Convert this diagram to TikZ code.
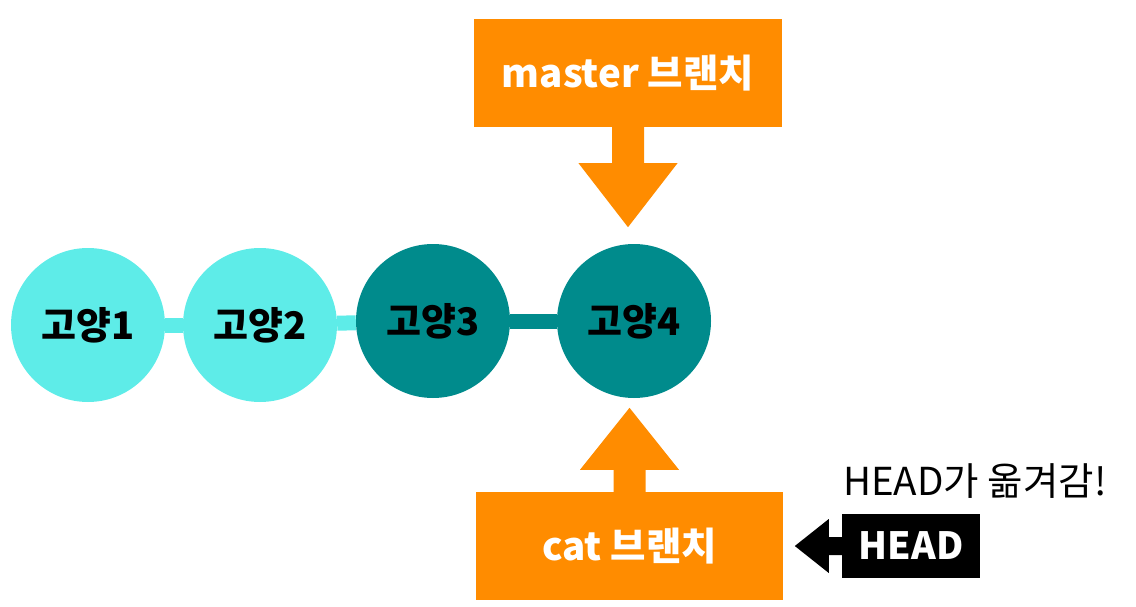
\documentclass[tikz,border=0pt]{standalone}
\usepackage{fontspec}
\setmainfont{Noto Sans CJK KR}
\usetikzlibrary{calc,backgrounds}
\definecolor{gorange}{RGB}{255,140,0}
\definecolor{lightcy}{RGB}{94,236,232}
\definecolor{darkcy}{RGB}{0,139,140}
\tikzset{
  commit/.style={circle, minimum size=154pt, inner sep=0pt, font=\bfseries\fontsize{38}{38}\selectfont},
  oldcommit/.style={commit, fill=lightcy},
  newcommit/.style={commit, fill=darkcy},
  branchbox/.style={rectangle, fill=gorange, text=white, inner sep=0pt, minimum width=308pt, minimum height=108pt, font=\bfseries\fontsize{38.5}{40}\selectfont},
  headbox/.style={rectangle, fill=black, text=white, inner sep=0pt, minimum width=138pt, minimum height=64pt, font=\bfseries\fontsize{37.5}{38}\selectfont},
  link/.style={line width=15pt}
}
\begin{document}
\begin{tikzpicture}[x=1pt,y=-1pt]
\useasboundingbox (0,0) rectangle (1136,607);
\node[oldcommit] (c1) at (88,325) {고양1};
\node[oldcommit] (c2) at (260,325) {고양2};
\node[newcommit] (c3) at (433,321) {고양3};
\node[newcommit] (c4) at (634,321) {고양4};
\begin{scope}[on background layer]
  \draw[link, lightcy] (c1) -- (c2);
  \draw[link, lightcy] (c2) -- (c3);
  \draw[link, darkcy] (c3) -- (c4);
\end{scope}
\node[branchbox] (master) at (628,73) {master 브랜치};
\node[branchbox, minimum width=307pt] (cat) at (629.5,546) {cat 브랜치};
\fill[gorange] ($(master.south)+(-16,0)$) -- ++(0,36) -- ++(-33.5,0) -- ($(master.south)+(0,100)$) -- ($(master.south)+(49.5,36)$) -- ++(-33.5,0) -- ($(master.south)+(16,0)$) -- cycle;
\fill[gorange] ($(cat.north)+(-16,0)$) -- ++(0,-22) -- ++(-33.5,0) -- ($(cat.north)+(0,-84)$) -- ($(cat.north)+(49.5,-22)$) -- ++(-33.5,0) -- ($(cat.north)+(16,0)$) -- cycle;
\node[headbox] (head) at (911,546) {HEAD};
\fill[black] ($(head.west)+(0,-9)$) -- ++(-13,0) -- ++(0,-18) -- ($(head.west)+(-47,0)$) -- ($(head.west)+(-13,27)$) -- ++(0,-18) -- ($(head.west)+(0,9)$) -- cycle;
\node[anchor=base west, inner sep=0pt, font=\fontsize{38.5}{38.5}\selectfont] (moved) at (843,495) {HEAD가 옮겨감!};
\end{tikzpicture}
\end{document}
